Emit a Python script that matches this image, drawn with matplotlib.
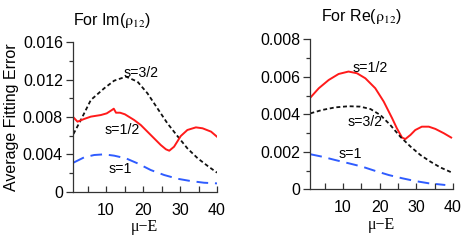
import matplotlib.pyplot as plt
from matplotlib.ticker import MultipleLocator

plt.rcParams['font.family'] = ['Liberation Sans', 'DejaVu Sans']
plt.rcParams['mathtext.fontset'] = 'stix'

# Im(rho_12) panel
im_x_32 = [1.2, 3.2, 5.9, 9.5, 12.2, 15.4, 18.5, 21.2, 23.9, 26.6, 29.3, 32.0, 34.8, 37.5, 40.0]
im_y_32 = [0.00618, 0.00768, 0.00982, 0.01107, 0.01189, 0.01232, 0.01179, 0.01054,
           0.00893, 0.00732, 0.00596, 0.00464, 0.00357, 0.00275, 0.00204]
im_x_12 = [1.2, 2.3, 4.1, 5.9, 8.6, 10.2, 11.6, 12.1, 12.7, 13.8, 15.1, 17.6, 19.4, 22.1,
           24.8, 26.2, 27.1, 28.4, 30.2, 32.0, 34.3, 36.1, 38.4, 40.0]
im_y_12 = [0.00796, 0.0075, 0.00779, 0.00804, 0.00821, 0.00839, 0.00875, 0.00889, 0.00846,
           0.00846, 0.00829, 0.00768, 0.00714, 0.00607, 0.0050, 0.00454, 0.00439, 0.00482,
           0.00596, 0.00661, 0.00689, 0.00679, 0.00643, 0.00589]
im_x_1 = [1.2, 4.1, 6.8, 9.5, 12.2, 15.4, 18.5, 22.1, 25.7, 29.3, 32.9, 36.5, 40.0]
im_y_1 = [0.00311, 0.00368, 0.00393, 0.0040, 0.00386, 0.00357, 0.00304, 0.00232,
          0.00179, 0.00139, 0.00114, 0.00096, 0.00089]

# Re(rho_12) panel
re_x_12 = [1.1, 3.4, 6.1, 8.8, 11.5, 13.8, 16.1, 18.8, 21.1, 23.4, 24.7, 26.1, 27.0,
           28.4, 29.7, 31.5, 33.4, 35.2, 37.5, 39.5]
re_y_12 = [0.00489, 0.00539, 0.00583, 0.00615, 0.00628, 0.00619, 0.00592, 0.00539,
           0.00468, 0.00379, 0.00325, 0.00276, 0.00268, 0.0029, 0.00316, 0.00334,
           0.00334, 0.00322, 0.00299, 0.00276]
re_x_32 = [1.1, 4.3, 7.9, 11.5, 14.7, 17.5, 20.2, 22.9, 25.6, 28.4, 31.1, 33.8, 36.5, 39.5]
re_y_32 = [0.00405, 0.00423, 0.00437, 0.00443, 0.00441, 0.00428, 0.00396, 0.00343,
           0.00281, 0.00228, 0.00183, 0.00148, 0.00117, 0.00091]
re_x_1 = [1.1, 4.3, 7.9, 11.5, 15.2, 18.8, 22.5, 26.1, 29.7, 33.4, 37.9]
re_y_1 = [0.00187, 0.00174, 0.00156, 0.00139, 0.00121, 0.00098, 0.00076, 0.00059,
          0.00044, 0.00032, 0.00023]

RED = '#ff1a1a'
BLUE = '#2f5cff'
BLACK = '#111111'


def style_axes(ax, ymax, ystep):
    for side in ('top', 'right'):
        ax.spines[side].set_visible(False)
    for side in ('left', 'bottom'):
        ax.spines[side].set_color('#333333')
        ax.spines[side].set_linewidth(0.9)
    ax.set_xlim(1.0, 40)
    ax.set_ylim(0, ymax)
    ax.xaxis.set_major_locator(MultipleLocator(10))
    ax.xaxis.set_minor_locator(MultipleLocator(5))
    ax.yaxis.set_major_locator(MultipleLocator(ystep))
    ax.yaxis.set_minor_locator(MultipleLocator(ystep / 2))
    ax.tick_params(axis='x', which='both', direction='in', length=4.5, width=0.9,
                   colors='#333333', labelcolor='black', labelsize=11.5, pad=8)
    ax.tick_params(axis='y', which='major', direction='out', length=5, width=0.9,
                   colors='#333333', labelcolor='black', labelsize=11.5, pad=2)
    ax.tick_params(axis='y', which='minor', direction='out', length=2.8, width=0.9,
                   colors='#333333')
    ax.yaxis.set_major_formatter(plt.FuncFormatter(lambda v, p: '0' if v == 0 else f'{v:.3f}'))
    ax.set_xlabel('\u03bc\u2212E', family=['Liberation Serif', 'DejaVu Serif'],
                  fontsize=11.5, labelpad=1)


fig = plt.figure(figsize=(4.64, 2.45), dpi=100)

ax1 = fig.add_axes([72.7 / 464, 53.3 / 245, 144.3 / 464, 149.4 / 245])
ax1.plot(im_x_32, im_y_32, color=BLACK, lw=1.3, dashes=(2.2, 1.5))
ax1.plot(im_x_12, im_y_12, color=RED, lw=1.4)
ax1.plot(im_x_1, im_y_1, color=BLUE, lw=1.4, dashes=(6, 3.5))
style_axes(ax1, 0.016, 0.004)
ax1.set_ylabel('Average Fitting Error', fontsize=11.5, labelpad=3)
ax1.text(19.6, 0.01275, 's=3/2', fontsize=10.2, ha='center', va='center')
ax1.text(14.5, 0.0066, 's=1/2', fontsize=10.2, ha='center', va='center')
ax1.text(13.8, 0.00239, 's=1', fontsize=10.2, ha='center', va='center')
ax1.text(0.0, 1.149, 'For Im($\\mathrm{\\rho}_{12}$)', transform=ax1.transAxes,
         fontsize=11.5, ha='left', va='center')

ax2 = fig.add_axes([310 / 464, 55.7 / 245, 143 / 464, 150 / 245])
ax2.plot(re_x_12, re_y_12, color=RED, lw=1.4)
ax2.plot(re_x_32, re_y_32, color=BLACK, lw=1.3, dashes=(2.2, 1.5))
ax2.plot(re_x_1, re_y_1, color=BLUE, lw=1.4, dashes=(6, 3.5))
style_axes(ax2, 0.008, 0.002)
ax2.text(17.5, 0.00649, 's=1/2', fontsize=10.2, ha='center', va='center')
ax2.text(16.1, 0.00361, 's=3/2', fontsize=10.2, ha='center', va='center')
ax2.text(12.0, 0.00188, 's=1', fontsize=10.2, ha='center', va='center')
ax2.text(0.077, 1.149, 'For Re($\\mathrm{\\rho}_{12}$)', transform=ax2.transAxes,
         fontsize=11.5, ha='left', va='center')

fig.savefig('out.png', dpi=100)
